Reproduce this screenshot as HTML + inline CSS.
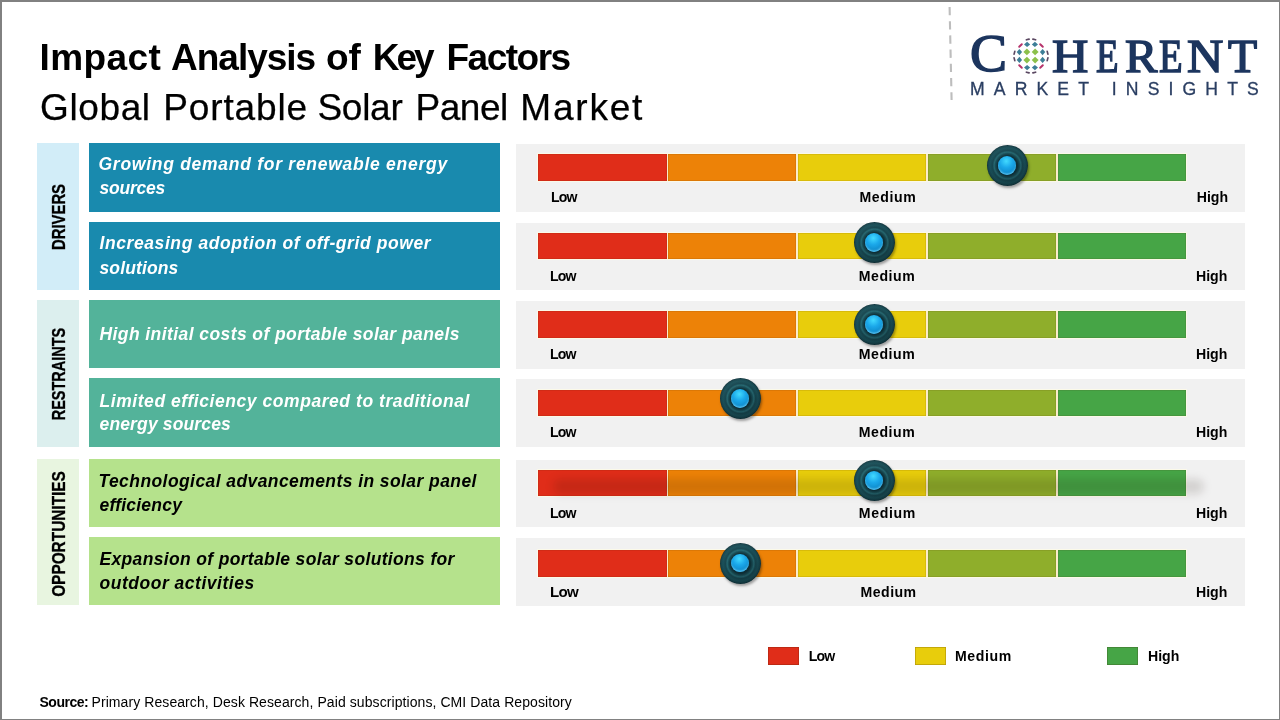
<!DOCTYPE html>
<html lang="en">
<head>
<meta charset="utf-8">
<title>Impact Analysis of Key Factors - Global Portable Solar Panel Market</title>
<style>
*{box-sizing:border-box;margin:0;padding:0}
html,body{width:1280px;height:720px;overflow:hidden;background:#fff}
body{position:relative;font-family:"Liberation Sans",sans-serif;color:#000}
.abs{position:absolute}
.frame{position:absolute;left:0;top:0;width:1280px;height:720px;border-style:solid;border-color:#818181;border-width:2px 1px 1px 2px;pointer-events:none}
.t{position:absolute;white-space:nowrap;line-height:1;transform-origin:0 0}
.ttl{font:inherit}
.title1{font-size:36.7px;font-weight:700}
.title2{font-size:36.7px;font-weight:400;-webkit-text-stroke:.25px #000}
.lg1{font-family:"Liberation Serif",serif;font-size:52.5px;color:#1c355e;-webkit-text-stroke:1.5px #1c355e}
.lg2{font-family:"Liberation Serif",serif;font-size:45.8px;color:#1c355e;-webkit-text-stroke:1.5px #1c355e}
.lg3{font-size:17.6px;color:#2a3e62;-webkit-text-stroke:.3px #2a3e62}
.cat{position:absolute;left:37px;width:42px}
.cat span{-webkit-text-stroke:.3px #000;position:absolute;margin-left:.7px;left:50%;top:50%;white-space:nowrap;font-weight:700;font-size:18px;line-height:1;transform:translate(-50%,-50%) rotate(-90deg)}
.row{position:absolute;left:89px;width:411px}
.rt{font-style:italic;font-weight:700;font-size:17.5px}
.c1{background:#198aae}
.c2{background:#53b39a}
.c3{background:#b5e28c}
.c1t,.c2t{color:#fff}
.c3t{color:#000}
.gp{position:absolute;left:516px;width:729px;background:#f1f1f1}
.bar{position:absolute;left:538px;width:648.2px;height:26px;display:flex;gap:1.4px;background:#fbeccb;box-shadow:0 0 0 1px rgba(253,250,230,.85)}
.bar i{display:block;height:100%;flex:1 1 0;box-shadow:inset 0 0 0 .5px rgba(70,30,0,.2)}
.lab{font-weight:700;font-size:13.3px}
.knob{position:absolute;width:41px;height:41px;border-radius:50%;
 background:linear-gradient(155deg, rgba(255,255,255,.05) 0, rgba(0,0,0,0) 40%, rgba(0,0,0,.26) 100%),
 radial-gradient(circle at 50% 50%, #0f333b 0 10px, #194d56 12px, #256770 13.3px, #17464f 15px, #1a5059 17.5px, #16444d 19.3px, #0e3038 20.5px);
 box-shadow:1.2px 2px 2.5px rgba(0,0,0,.35)}
.knob:after{content:"";position:absolute;left:11px;top:11.2px;width:18px;height:18.6px;border-radius:50%;
 background:radial-gradient(circle at 46% 27%, #42daff 0, #1ba8ea 38%, #0c84c4 82%, #1391d0 100%);
 box-shadow:inset 0 -1.6px 1.6px rgba(110,210,250,.7)}
.shade{position:absolute;left:553px;top:479px;width:651px;height:15px;border-radius:8px;background:rgba(20,10,0,.135);filter:blur(4.5px)}
.src{font-size:14px}
.sb{font-weight:700}
.sw{position:absolute;width:31px;height:17.8px;top:647px;box-shadow:inset 0 0 0 .7px rgba(60,30,0,.28)}
</style>
</head>
<body>

<h1 class="ttl"><span id="t1w0" class="t title1" style="left:39.50px;top:38.50px;font-size:37px;letter-spacing:0.40px">Impact</span> <span id="t1w1" class="t title1" style="left:171.00px;top:38.50px;font-size:37px;letter-spacing:-1.00px">Analysis</span> <span id="t1w2" class="t title1" style="left:325.90px;top:38.50px;font-size:37px">of</span> <span id="t1w3" class="t title1" style="left:372.70px;top:38.50px;font-size:37px;letter-spacing:-3.00px">Key</span> <span id="t1w4" class="t title1" style="left:446.50px;top:38.50px;font-size:37px;letter-spacing:-1.50px">Factors</span></h1>
<h2 class="ttl"><span id="t2w0" class="t title2" style="left:40.10px;top:89.22px;font-size:37px;letter-spacing:0.60px">Global</span> <span id="t2w1" class="t title2" style="left:163.30px;top:89.22px;font-size:37px;letter-spacing:0.86px">Portable</span> <span id="t2w2" class="t title2" style="left:317.40px;top:89.22px;font-size:37px;letter-spacing:-0.25px">Solar</span> <span id="t2w3" class="t title2" style="left:415.60px;top:89.22px;font-size:37px;letter-spacing:-0.50px">Panel</span> <span id="t2w4" class="t title2" style="left:520.30px;top:89.22px;font-size:37px;letter-spacing:1.80px">Market</span></h2>
<!-- logo -->
<svg class="abs" style="left:944px;top:4px" width="12" height="100" viewBox="0 0 12 100"><line x1="5.6" y1="3" x2="7.6" y2="96" stroke="#bdbdbd" stroke-width="2.1" stroke-dasharray="8.3 5.9"/></svg>
<svg class="abs" style="left:1010px;top:35px" width="42" height="42" viewBox="-21 -21 42 42">
 <g fill="#8cc04b">
  <path d="M-4.1-7.6 L-0.7-4.1 L-4.1-0.7 L-7.6-4.1Z"/><path d="M4.1-7.6 L7.6-4.1 L4.1-0.7 L0.7-4.1Z"/>
  <path d="M-4.1 0.7 L-0.7 4.1 L-4.1 7.6 L-7.6 4.1Z"/><path d="M4.1 0.7 L7.6 4.1 L4.1 7.6 L0.7 4.1Z"/>
 </g>
 <g fill="#3d7e97">
  <path d="M-3.9-14.3 L-0.8-11.6 L-3.9-8.9 L-7-11.6Z"/><path d="M3.9-14.3 L7-11.6 L3.9-8.9 L0.8-11.6Z"/>
  <path d="M-3.9 14.3 L-0.8 11.6 L-3.9 8.9 L-7 11.6Z"/><path d="M3.9 14.3 L7 11.6 L3.9 8.9 L0.8 11.6Z"/>
  <path d="M-14.3-3.9 L-11.6-0.8 L-8.9-3.9 L-11.6-7Z"/><path d="M-14.3 3.9 L-11.6 7 L-8.9 3.9 L-11.6 0.8Z"/>
  <path d="M14.3-3.9 L11.6-0.8 L8.9-3.9 L11.6-7Z"/><path d="M14.3 3.9 L11.6 7 L8.9 3.9 L11.6 0.8Z"/>
 </g>
 <g stroke="#b7336b" stroke-width="2" stroke-linecap="round" fill="none">
  <path d="M-11.8-9.2 L-9.2-11.8"/><path d="M11.8-9.2 L9.2-11.8"/><path d="M-11.8 9.2 L-9.2 11.8"/><path d="M11.8 9.2 L9.2 11.8"/>
 </g>
 <g stroke="#5b4862" stroke-width="1.7" stroke-linecap="round" fill="none">
  <path d="M-4.6-16.2 L-1.9-16.9"/><path d="M4.6-16.2 L1.9-16.9"/>
  <path d="M-4.6 16.2 L-1.9 16.9"/><path d="M4.6 16.2 L1.9 16.9"/>
  <path d="M-16.2-4.6 L-16.9-1.9"/><path d="M-16.2 4.6 L-16.9 1.9"/>
  <path d="M16.2-4.6 L16.9-1.9"/><path d="M16.2 4.6 L16.9 1.9"/>
 </g>
</svg>


<div class="lgw"><span id="lg1" class="t lg1" style="left:969.80px;top:27.00px;font-size:52.5px;transform:scaleX(1.0567)">C</span><span class="lgh"><span id="lg20" class="t lg2" style="left:1051.80px;top:34.01px;font-size:45.8px;transform:scaleX(1.0976)">H</span><span id="lg21" class="t lg2" style="left:1096.00px;top:34.01px;font-size:45.8px;transform:scaleX(0.8047)">E</span><span id="lg22" class="t lg2" style="left:1124.50px;top:34.01px;font-size:45.8px;transform:scaleX(1.0599)">R</span><span id="lg23" class="t lg2" style="left:1159.20px;top:34.01px;font-size:45.8px;transform:scaleX(0.8442)">E</span><span id="lg24" class="t lg2" style="left:1187.00px;top:34.01px;font-size:45.8px;transform:scaleX(1.0972)">N</span><span id="lg25" class="t lg2" style="left:1228.30px;top:34.01px;font-size:45.8px;transform:scaleX(1.0412)">T</span></span></div>
<div id="lg3" class="t lg3" style="left:970.00px;top:80.51px;font-size:17.6px;letter-spacing:9.13px">MARKET INSIGHTS</div>

<!-- category labels -->
<div class="cat" style="top:143px;height:147px;background:#d2edf8"><span id="c1" style="transform:translate(-50%,-50%) rotate(-90deg) scaleX(.825)">DRIVERS</span></div>
<div class="cat" style="top:300px;height:147px;background:#dcefee"><span id="c2" style="transform:translate(-50%,-50%) rotate(-90deg) scaleX(.805)">RESTRAINTS</span></div>
<div class="cat" style="top:459px;height:145.5px;background:#e8f5e0"><span id="c3" style="margin-top:2px;transform:translate(-50%,-50%) rotate(-90deg) scaleX(.855)">OPPORTUNITIES</span></div>

<!-- factor rows -->
<div class="row c1" style="top:143px;height:69px"></div>
<div id="r1l1" class="t rt c1t" style="left:98.50px;top:156.40px;font-size:17.5px;letter-spacing:0.73px">Growing demand for renewable energy</div>
<div id="r1l2" class="t rt c1t" style="left:99.50px;top:180.21px;font-size:17.5px;letter-spacing:-0.23px">sources</div>
<div class="row c1" style="top:222.25px;height:67.5px"></div>
<div id="r2l1" class="t rt c1t" style="left:99.50px;top:235.25px;font-size:17.5px;letter-spacing:0.59px">Increasing adoption of off-grid power</div>
<div id="r2l2" class="t rt c1t" style="left:99.50px;top:259.50px;font-size:17.5px;letter-spacing:0.13px">solutions</div>
<div class="row c2" style="top:300px;height:67.75px"></div>
<div id="r3l1" class="t rt c2t" style="left:99.50px;top:325.81px;font-size:17.5px;letter-spacing:0.42px">High initial costs of portable solar panels</div>
<div class="row c2" style="top:378.1px;height:68.8px"></div>
<div id="r4l1" class="t rt c2t" style="left:99.50px;top:392.60px;font-size:17.5px;letter-spacing:0.56px">Limited efficiency compared to traditional</div>
<div id="r4l2" class="t rt c2t" style="left:99.50px;top:416.00px;font-size:17.5px;letter-spacing:0.15px">energy sources</div>
<div class="row c3" style="top:459.1px;height:67.8px"></div>
<div id="r5l1" class="t rt c3t" style="left:98.50px;top:473.00px;font-size:17.5px;letter-spacing:0.42px">Technological advancements in solar panel</div>
<div id="r5l2" class="t rt c3t" style="left:99.50px;top:496.50px;font-size:17.5px;letter-spacing:0.22px">efficiency</div>
<div class="row c3" style="top:537.25px;height:67.5px"></div>
<div id="r6l1" class="t rt c3t" style="left:99.50px;top:551.00px;font-size:17.5px;letter-spacing:0.34px">Expansion of portable solar solutions for</div>
<div id="r6l2" class="t rt c3t" style="left:99.50px;top:574.50px;font-size:17.5px;letter-spacing:0.52px">outdoor activities</div>

<!-- grey panels -->
<div class="gp" style="top:144px;height:68px"></div>
<div class="gp" style="top:223px;height:66.75px"></div>
<div class="gp" style="top:301.25px;height:67.5px"></div>
<div class="gp" style="top:379.4px;height:67.2px"></div>
<div class="gp" style="top:460.25px;height:66.3px"></div>
<div class="gp" style="top:538.1px;height:67.5px"></div>

<!-- scale 1 -->
<div class="bar" style="top:154px;height:26.5px"><i style="background:#e02d19"></i><i style="background:#ed8207"></i><i style="background:#e8cd0c"></i><i style="background:#8fae2b"></i><i style="background:#46a546"></i></div>
<div id="s1lo" class="t lab" style="left:551.00px;top:189.90px;font-size:14.1px;letter-spacing:-0.80px">Low</div>
<div id="s1me" class="t lab" style="left:859.50px;top:189.90px;font-size:14.1px;letter-spacing:0.60px">Medium</div>
<div id="s1hi" class="t lab" style="left:1196.75px;top:189.90px;font-size:14.1px">High</div>
<div class="knob" style="left:986.8px;top:145.1px"></div>
<!-- scale 2 -->
<div class="bar" style="top:233px;height:25.75px"><i style="background:#e02d19"></i><i style="background:#ed8207"></i><i style="background:#e8cd0c"></i><i style="background:#8fae2b"></i><i style="background:#46a546"></i></div>
<div id="s2lo" class="t lab" style="left:550.00px;top:268.90px;font-size:14.1px;letter-spacing:-0.80px">Low</div>
<div id="s2me" class="t lab" style="left:858.75px;top:268.90px;font-size:14.1px;letter-spacing:0.56px">Medium</div>
<div id="s2hi" class="t lab" style="left:1196.00px;top:268.90px;font-size:14.1px">High</div>
<div class="knob" style="left:853.9px;top:222.3px"></div>
<!-- scale 3 -->
<div class="bar" style="top:311.25px;height:26.5px"><i style="background:#e02d19"></i><i style="background:#ed8207"></i><i style="background:#e8cd0c"></i><i style="background:#8fae2b"></i><i style="background:#46a546"></i></div>
<div id="s3lo" class="t lab" style="left:550.00px;top:346.75px;font-size:14.1px;letter-spacing:-0.80px">Low</div>
<div id="s3me" class="t lab" style="left:858.75px;top:346.75px;font-size:14.1px;letter-spacing:0.56px">Medium</div>
<div id="s3hi" class="t lab" style="left:1196.00px;top:346.75px;font-size:14.1px">High</div>
<div class="knob" style="left:853.9px;top:304.0px"></div>
<!-- scale 4 -->
<div class="bar" style="top:390px;height:26px"><i style="background:#e02d19"></i><i style="background:#ed8207"></i><i style="background:#e8cd0c"></i><i style="background:#8fae2b"></i><i style="background:#46a546"></i></div>
<div id="s4lo" class="t lab" style="left:550.00px;top:424.90px;font-size:14.1px;letter-spacing:-0.80px">Low</div>
<div id="s4me" class="t lab" style="left:858.75px;top:424.90px;font-size:14.1px;letter-spacing:0.56px">Medium</div>
<div id="s4hi" class="t lab" style="left:1196.00px;top:424.90px;font-size:14.1px">High</div>
<div class="knob" style="left:720.1px;top:378.3px"></div>
<!-- scale 5 -->
<div class="bar" style="top:470px;height:26px"><i style="background:#e02d19"></i><i style="background:#ed8207"></i><i style="background:#e8cd0c"></i><i style="background:#8fae2b"></i><i style="background:#46a546"></i></div>
<div class="shade"></div>
<div id="s5lo" class="t lab" style="left:550.00px;top:505.75px;font-size:14.1px;letter-spacing:-0.80px">Low</div>
<div id="s5me" class="t lab" style="left:858.75px;top:505.75px;font-size:14.1px;letter-spacing:0.68px">Medium</div>
<div id="s5hi" class="t lab" style="left:1196.00px;top:505.75px;font-size:14.1px">High</div>
<div class="knob" style="left:853.9px;top:459.8px"></div>
<!-- scale 6 -->
<div class="bar" style="top:550px;height:26.5px"><i style="background:#e02d19"></i><i style="background:#ed8207"></i><i style="background:#e8cd0c"></i><i style="background:#8fae2b"></i><i style="background:#46a546"></i></div>
<div id="s6lo" class="t lab" style="left:550.00px;top:583.61px;font-size:15.1px;letter-spacing:-0.70px">Low</div>
<div id="s6me" class="t lab" style="left:860.50px;top:584.61px;font-size:14.1px;letter-spacing:0.48px">Medium</div>
<div id="s6hi" class="t lab" style="left:1196.00px;top:584.61px;font-size:14.1px">High</div>
<div class="knob" style="left:720.1px;top:542.5px"></div>

<!-- legend -->
<div class="sw" style="left:768px;background:#e02d19"></div>
<div class="sw" style="left:915px;background:#e8cd0c"></div>
<div class="sw" style="left:1107px;background:#46a546"></div>
<div id="lglo" class="t lab" style="left:808.75px;top:648.61px;font-size:14.1px;letter-spacing:-0.80px">Low</div>
<div id="lgme" class="t lab" style="left:955.00px;top:648.61px;font-size:14.1px;letter-spacing:0.60px">Medium</div>
<div id="lghi" class="t lab" style="left:1148.00px;top:648.61px;font-size:14.1px">High</div>

<!-- source -->
<div id="srcb" class="t src sb" style="left:39.50px;top:695.00px;font-size:14px;letter-spacing:-0.50px">Source:</div>
<div id="srcr" class="t src" style="left:91.50px;top:695.00px;font-size:14px;letter-spacing:0.08px">Primary Research, Desk Research, Paid subscriptions, CMI Data Repository</div>

<div class="frame"></div>
</body>
</html>
